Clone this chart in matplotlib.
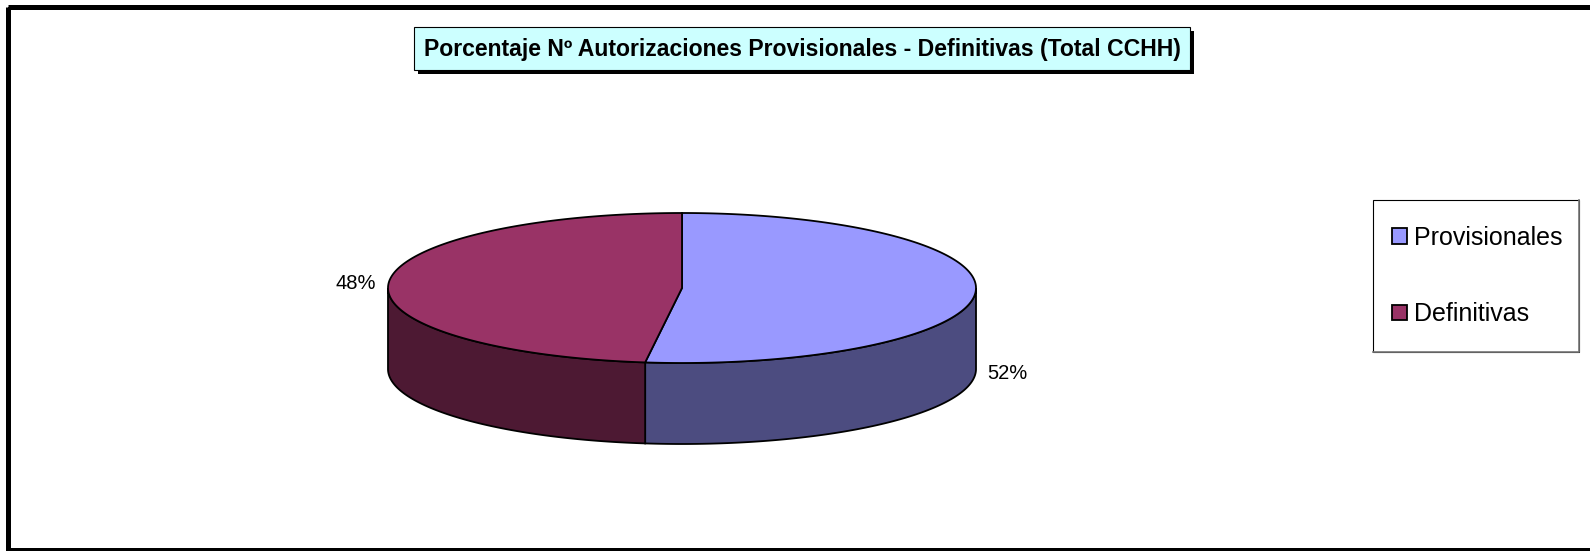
import matplotlib
matplotlib.use('Agg')
import matplotlib.pyplot as plt
from matplotlib.patches import Polygon, Rectangle
import numpy as np

plt.rcParams['font.family'] = ['Liberation Sans', 'DejaVu Sans']

# data
labels = ['Provisionales', 'Definitivas']
values = [52, 48]
top_colors = ['#9999FF', '#993366']
side_colors = ['#4C4C80', '#4D1933']
title = 'Porcentaje Nº Autorizaciones Provisionales - Definitivas (Total CCHH)'

W, H = 1590, 551
fig = plt.figure(figsize=(W / 100, H / 100), dpi=100)
ax = fig.add_axes([0, 0, 1, 1])
ax.set_xlim(0, W)
ax.set_ylim(H, 0)
ax.axis('off')

# pie geometry (pixels)
cx, cy = 682, 288
ra, rb = 294, 75
depth = 81


def ell(theta):
    t = np.radians(theta)
    return cx + ra * np.cos(t), cy - rb * np.sin(t)


def arc(t0, t1, n=200):
    ts = np.linspace(t0, t1, n)
    x, y = ell(ts)
    return np.column_stack([x, y])


total = float(sum(values))
bounds = []
cum = 0.0
for v in values:
    a_start = 90 - 360 * cum / total
    cum += v
    a_end = 90 - 360 * cum / total
    bounds.append((a_end, a_start))

# side walls (front half only)
for (a0, a1), sc in zip(bounds, side_colors):
    for k in (-1, 0, 1):
        lo, hi = max(a0, -180 + 360 * k), min(a1, 360 * k)
        if hi <= lo:
            continue
        top = arc(lo, hi)
        bot = top[::-1] + [0, depth]
        ax.add_patch(Polygon(np.vstack([top, bot]), closed=True,
                             fc=sc, ec='black', lw=1.3, zorder=2))

# top faces
handles = []
for (a0, a1), tc in zip(bounds, top_colors):
    pts = np.vstack([[cx, cy], arc(a1, a0)])
    p = Polygon(pts, closed=True, fc=tc, ec='black', lw=1.3, zorder=3)
    ax.add_patch(p)
    handles.append(Polygon([[0, 0]], fc=tc, ec='black', lw=1.3))

# percentage labels
for (a0, a1), v in zip(bounds, values):
    mid = (a0 + a1) / 2
    x, y = ell(mid)
    if np.sin(np.radians(mid)) < 0:
        y += depth
    if np.cos(np.radians(mid)) >= 0:
        ax.text(x + 12, y, f'{v / total * 100:.0f}%', ha='left', va='center',
                fontsize=14.5, zorder=4)
    else:
        ax.text(x - 13, y, f'{v / total * 100:.0f}%', ha='right', va='center',
                fontsize=14.5, zorder=4)

# title box with shadow
tx0, ty0, tx1, ty1 = 414, 27, 1190, 70
ax.add_patch(Rectangle((tx0 + 4, ty0 + 4), tx1 - tx0, ty1 - ty0,
                       fc='black', ec='none', zorder=5))
ax.add_patch(Rectangle((tx0, ty0), tx1 - tx0, ty1 - ty0,
                       fc='#CCFFFF', ec='black', lw=0.8, zorder=6))
ax.text((tx0 + tx1) / 2, (ty0 + ty1) / 2 + 1, title, ha='center', va='center',
        fontsize=16.6, fontweight='bold', zorder=7)

# legend: frame drawn as a box, entries via ax.legend
lx0, ly0, lx1, ly1 = 1373, 200, 1579, 352
ax.add_patch(Rectangle((lx0, ly0), lx1 - lx0, ly1 - ly0,
                       fc='white', ec='black', lw=0.8, zorder=5))
ax.plot([lx1, lx1, lx0], [ly0, ly1, ly1], color='#777777', lw=1.2, zorder=5.5)
leg = ax.legend(handles, labels, loc='center left',
                bbox_to_anchor=(1392 / W, 1 - 276 / H), fontsize=18,
                frameon=False, handlelength=0.6, handleheight=0.6,
                handletextpad=0.3, labelspacing=2.1, borderpad=0,
                borderaxespad=0)
leg.set_zorder(6)

# outer frame
ax.add_patch(Rectangle((7.5, 6.5), 1600, 543, fc='none', ec='black',
                       lw=3.6, zorder=8, clip_on=False))

fig.savefig('out.png', dpi=100)
